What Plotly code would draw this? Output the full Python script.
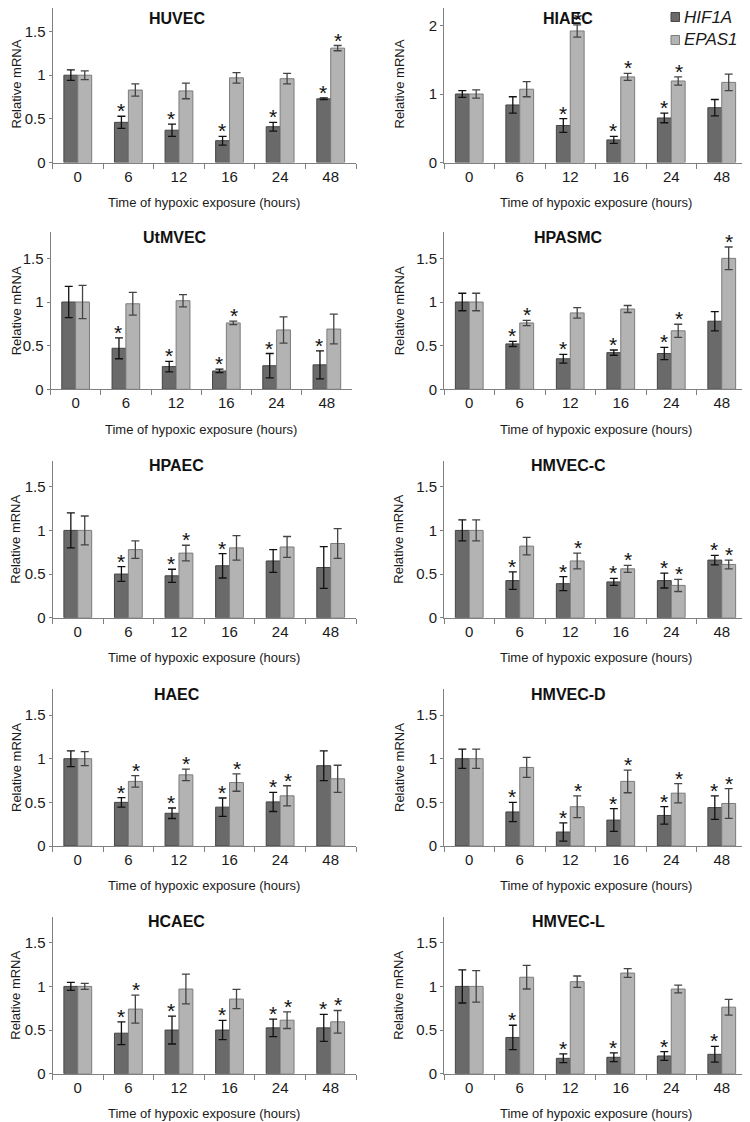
import plotly.graph_objects as go

# Browser window is 750x1122 but the page body has an 8px margin,
# so the figure is 742x1114 and reference pixel positions are shifted by 8.
WIN_W, WIN_H = 750, 1122
OFF = 8
W, H = WIN_W - OFF, WIN_H - OFF


def px(x):
    return (x - OFF) / W


def py(y):
    return 1 - (y - OFF) / H


TIMES = ["0", "6", "12", "16", "24", "48"]
CELLS = ["HUVEC", "HIAEC", "UtMVEC", "HPASMC", "HPAEC", "HMVEC-C", "HAEC", "HMVEC-D", "HCAEC", "HMVEC-L"]
SERIES = ["HIF1A", "EPAS1"]

# ---- data (mean, s.e.), significance flags (1 = asterisk) ----
HUVEC_HIF1A = [1.00, 0.46, 0.37, 0.25, 0.41, 0.73]
HUVEC_HIF1A_ERR = [0.06, 0.07, 0.07, 0.05, 0.05, 0.01]
HUVEC_EPAS1 = [1.00, 0.83, 0.82, 0.97, 0.96, 1.31]
HUVEC_EPAS1_ERR = [0.05, 0.07, 0.09, 0.06, 0.06, 0.03]
HUVEC_HIF1A_SIG = [0, 1, 1, 1, 1, 1]
HUVEC_EPAS1_SIG = [0, 0, 0, 0, 0, 1]

HIAEC_HIF1A = [1.00, 0.84, 0.54, 0.33, 0.65, 0.80]
HIAEC_HIF1A_ERR = [0.05, 0.12, 0.10, 0.05, 0.07, 0.12]
HIAEC_EPAS1 = [1.00, 1.07, 1.92, 1.25, 1.19, 1.17]
HIAEC_EPAS1_ERR = [0.06, 0.11, 0.09, 0.05, 0.06, 0.12]
HIAEC_HIF1A_SIG = [0, 0, 1, 1, 1, 0]
HIAEC_EPAS1_SIG = [0, 0, 1, 1, 1, 0]

UTMVEC_HIF1A = [1.00, 0.47, 0.26, 0.21, 0.27, 0.28]
UTMVEC_HIF1A_ERR = [0.18, 0.12, 0.06, 0.02, 0.14, 0.16]
UTMVEC_EPAS1 = [1.00, 0.98, 1.015, 0.76, 0.68, 0.69]
UTMVEC_EPAS1_ERR = [0.19, 0.13, 0.07, 0.02, 0.15, 0.17]
UTMVEC_HIF1A_SIG = [0, 1, 1, 1, 1, 1]
UTMVEC_EPAS1_SIG = [0, 0, 0, 1, 0, 0]

HPASMC_HIF1A = [1.00, 0.52, 0.35, 0.42, 0.41, 0.78]
HPASMC_HIF1A_ERR = [0.10, 0.03, 0.05, 0.03, 0.07, 0.11]
HPASMC_EPAS1 = [1.00, 0.76, 0.875, 0.92, 0.67, 1.50]
HPASMC_EPAS1_ERR = [0.10, 0.03, 0.06, 0.04, 0.075, 0.13]
HPASMC_HIF1A_SIG = [0, 1, 1, 1, 1, 0]
HPASMC_EPAS1_SIG = [0, 1, 0, 0, 1, 1]

HPAEC_HIF1A = [1.00, 0.50, 0.48, 0.595, 0.65, 0.575]
HPAEC_HIF1A_ERR = [0.20, 0.085, 0.075, 0.14, 0.13, 0.24]
HPAEC_EPAS1 = [1.00, 0.78, 0.74, 0.80, 0.81, 0.85]
HPAEC_EPAS1_ERR = [0.165, 0.10, 0.09, 0.14, 0.12, 0.17]
HPAEC_HIF1A_SIG = [0, 1, 1, 1, 0, 0]
HPAEC_EPAS1_SIG = [0, 0, 1, 0, 0, 0]

HMVECC_HIF1A = [1.00, 0.425, 0.39, 0.41, 0.425, 0.66]
HMVECC_HIF1A_ERR = [0.12, 0.10, 0.08, 0.04, 0.085, 0.055]
HMVECC_EPAS1 = [1.00, 0.82, 0.65, 0.56, 0.37, 0.61]
HMVECC_EPAS1_ERR = [0.12, 0.10, 0.09, 0.04, 0.07, 0.05]
HMVECC_HIF1A_SIG = [0, 1, 1, 1, 1, 1]
HMVECC_EPAS1_SIG = [0, 0, 1, 1, 1, 1]

HAEC_HIF1A = [1.00, 0.50, 0.375, 0.445, 0.505, 0.92]
HAEC_HIF1A_ERR = [0.09, 0.055, 0.06, 0.105, 0.11, 0.17]
HAEC_EPAS1 = [1.00, 0.74, 0.815, 0.727, 0.575, 0.77]
HAEC_EPAS1_ERR = [0.08, 0.065, 0.065, 0.10, 0.115, 0.155]
HAEC_HIF1A_SIG = [0, 1, 1, 1, 1, 0]
HAEC_EPAS1_SIG = [0, 1, 1, 1, 1, 0]

HMVECD_HIF1A = [1.00, 0.39, 0.16, 0.297, 0.35, 0.44]
HMVECD_HIF1A_ERR = [0.11, 0.11, 0.105, 0.13, 0.10, 0.135]
HMVECD_EPAS1 = [1.00, 0.90, 0.45, 0.74, 0.605, 0.487]
HMVECD_EPAS1_ERR = [0.11, 0.115, 0.125, 0.13, 0.11, 0.17]
HMVECD_HIF1A_SIG = [0, 1, 1, 1, 1, 1]
HMVECD_EPAS1_SIG = [0, 0, 1, 1, 1, 1]

HCAEC_HIF1A = [1.00, 0.464, 0.50, 0.50, 0.525, 0.525]
HCAEC_HIF1A_ERR = [0.045, 0.13, 0.16, 0.11, 0.10, 0.155]
HCAEC_EPAS1 = [1.00, 0.74, 0.97, 0.855, 0.613, 0.594]
HCAEC_EPAS1_ERR = [0.035, 0.16, 0.17, 0.11, 0.095, 0.13]
HCAEC_HIF1A_SIG = [0, 1, 1, 1, 1, 1]
HCAEC_EPAS1_SIG = [0, 1, 0, 0, 1, 1]

HMVECL_HIF1A = [1.00, 0.415, 0.176, 0.188, 0.203, 0.222]
HMVECL_HIF1A_ERR = [0.19, 0.14, 0.05, 0.05, 0.05, 0.09]
HMVECL_EPAS1 = [1.00, 1.105, 1.054, 1.153, 0.97, 0.762]
HMVECL_EPAS1_ERR = [0.18, 0.135, 0.065, 0.05, 0.045, 0.09]
HMVECL_HIF1A_SIG = [0, 1, 1, 1, 1, 1]
HMVECL_EPAS1_SIG = [0, 0, 0, 0, 0, 0]

PANELS = [
    (HUVEC_HIF1A, HUVEC_HIF1A_ERR, HUVEC_EPAS1, HUVEC_EPAS1_ERR, HUVEC_HIF1A_SIG, HUVEC_EPAS1_SIG),
    (HIAEC_HIF1A, HIAEC_HIF1A_ERR, HIAEC_EPAS1, HIAEC_EPAS1_ERR, HIAEC_HIF1A_SIG, HIAEC_EPAS1_SIG),
    (UTMVEC_HIF1A, UTMVEC_HIF1A_ERR, UTMVEC_EPAS1, UTMVEC_EPAS1_ERR, UTMVEC_HIF1A_SIG, UTMVEC_EPAS1_SIG),
    (HPASMC_HIF1A, HPASMC_HIF1A_ERR, HPASMC_EPAS1, HPASMC_EPAS1_ERR, HPASMC_HIF1A_SIG, HPASMC_EPAS1_SIG),
    (HPAEC_HIF1A, HPAEC_HIF1A_ERR, HPAEC_EPAS1, HPAEC_EPAS1_ERR, HPAEC_HIF1A_SIG, HPAEC_EPAS1_SIG),
    (HMVECC_HIF1A, HMVECC_HIF1A_ERR, HMVECC_EPAS1, HMVECC_EPAS1_ERR, HMVECC_HIF1A_SIG, HMVECC_EPAS1_SIG),
    (HAEC_HIF1A, HAEC_HIF1A_ERR, HAEC_EPAS1, HAEC_EPAS1_ERR, HAEC_HIF1A_SIG, HAEC_EPAS1_SIG),
    (HMVECD_HIF1A, HMVECD_HIF1A_ERR, HMVECD_EPAS1, HMVECD_EPAS1_ERR, HMVECD_HIF1A_SIG, HMVECD_EPAS1_SIG),
    (HCAEC_HIF1A, HCAEC_HIF1A_ERR, HCAEC_EPAS1, HCAEC_EPAS1_ERR, HCAEC_HIF1A_SIG, HCAEC_EPAS1_SIG),
    (HMVECL_HIF1A, HMVECL_HIF1A_ERR, HMVECL_EPAS1, HMVECL_EPAS1_ERR, HMVECL_HIF1A_SIG, HMVECL_EPAS1_SIG),
]

# ---- style ----
DARK = "#6a6a6a"
DARK_LINE = "#454545"
LIGHT = "#b3b3b3"
LIGHT_LINE = "#7c7c7c"
AXIS = "#808080"
FONT = "Liberation Sans, Arial, sans-serif"
TXT = "#1a1a1a"

# window-pixel geometry: (x0, x1) per column, zero-line y per row
COL_X = [(52.5, 356.0), (444.0, 747.0)]
ROW_Y0 = [162.5, 389.3, 617.7, 846.0, 1073.7]
PX_PER_UNIT = 87.3        # scale of the 0-1.8 panels
PX_PER_UNIT_HIAEC = 68.5  # scale of the 0-2.3 panel
PLOT_H = 157.0

fig = go.Figure()
layout = dict(
    template="none",
    width=W, height=H,
    margin=dict(l=0, r=0, t=0, b=0, pad=0, autoexpand=False),
    paper_bgcolor="white", plot_bgcolor="white",
    barmode="group", bargap=0.45, bargroupgap=0,
    font=dict(family=FONT, color=TXT),
    showlegend=False,
)
annotations = []
shapes = []

for i, cell in enumerate(CELLS):
    hif, hif_e, ep, ep_e, hif_s, ep_s = PANELS[i]
    row, col = divmod(i, 2)
    x0, x1 = COL_X[col]
    if cell == "UtMVEC":
        x0, x1 = 50.5, 352.0
    y0 = ROW_Y0[row]
    ytop = max(y0 - PLOT_H, OFF)
    scale = PX_PER_UNIT_HIAEC if cell == "HIAEC" else PX_PER_UNIT
    ymax = (y0 - ytop) / scale
    n = i + 1
    xa = "x" if n == 1 else f"x{n}"
    ya = "y" if n == 1 else f"y{n}"
    dtick = 1 if cell == "HIAEC" else 0.5

    fig.add_trace(go.Bar(
        x=TIMES, y=hif, name=SERIES[0],
        marker=dict(color=DARK, line=dict(color=DARK_LINE, width=1)),
        error_y=dict(type="data", array=hif_e, color="#111111", thickness=1.3, width=4),
        xaxis=xa, yaxis=ya, offsetgroup="a"))
    fig.add_trace(go.Bar(
        x=TIMES, y=ep, name=SERIES[1],
        marker=dict(color=LIGHT, line=dict(color=LIGHT_LINE, width=1)),
        error_y=dict(type="data", array=ep_e, color="#444444", thickness=1.3, width=4),
        xaxis=xa, yaxis=ya, offsetgroup="b"))

    key = "" if n == 1 else str(n)
    layout["xaxis" + key] = dict(
        domain=[px(x0), px(x1)], anchor=ya, type="category",
        categoryorder="array", categoryarray=TIMES,
        range=[-0.5, len(TIMES) - 0.5], autorange=False, automargin=False,
        showline=True, linecolor=AXIS, linewidth=1,
        ticks="outside", tickson="boundaries", ticklen=5, tickcolor=AXIS, tickwidth=1,
        tickangle=0,
        tickfont=dict(size=15, family=FONT, color=TXT),
        showgrid=False, zeroline=False, fixedrange=True)
    layout["yaxis" + key] = dict(
        domain=[py(y0), min(py(ytop), 1.0)], anchor=xa, range=[0, ymax], autorange=False,
        automargin=False, dtick=dtick, tick0=0,
        showline=True, linecolor=AXIS, linewidth=1,
        ticks="outside", ticklen=3, tickcolor=AXIS, tickwidth=1,
        tickfont=dict(size=15, family=FONT, color=TXT),
        showgrid=False, zeroline=False, fixedrange=True)

    # panel title
    ty = max(y0 - 152, 18)
    annotations.append(dict(
        text=f"<b>{cell}</b>", xref="paper", yref="paper",
        x=px(x0 + 124), y=py(ty), xanchor="center", yanchor="middle",
        showarrow=False, font=dict(size=16, family=FONT, color="#111111")))
    # x axis title
    annotations.append(dict(
        text="Time of hypoxic exposure (hours)", xref="paper", yref="paper",
        x=px((x0 + x1) / 2), y=py(y0 + 40), xanchor="center", yanchor="middle",
        showarrow=False, font=dict(size=13, family=FONT, color=TXT)))
    # y axis title
    annotations.append(dict(
        text="Relative mRNA", xref="paper", yref="paper", textangle=-90,
        x=px(max(x0 - 45, 16)), y=py(y0 - 78), xanchor="center", yanchor="middle",
        showarrow=False, font=dict(size=13, family=FONT, color=TXT)))
    # significance asterisks (x given as category index)
    for vals, errs, sig, shift in ((hif, hif_e, hif_s, -7.5), (ep, ep_e, ep_s, 7.5)):
        for k, (v, e, s) in enumerate(zip(vals, errs, sig)):
            if s:
                annotations.append(dict(
                    text="*", xref=xa, yref=ya, x=k, y=v + e,
                    xanchor="center", yanchor="bottom", xshift=shift, yshift=-8,
                    showarrow=False, font=dict(size=21, family=FONT, color="#111111")))

# legend (top right), drawn as swatches + italic labels
for j, (name, fill, line) in enumerate(((SERIES[0], DARK, DARK_LINE), (SERIES[1], LIGHT, LIGHT_LINE))):
    cy = 17 + 23 * j
    shapes.append(dict(type="rect", xref="paper", yref="paper",
                       x0=px(671), x1=px(679.5), y0=py(cy + 4.5), y1=py(cy - 4.5),
                       fillcolor=fill, line=dict(color=line, width=1)))
    annotations.append(dict(
        text=f"<i>{name}</i>", xref="paper", yref="paper",
        x=px(682), y=py(cy), xanchor="left", yanchor="middle",
        showarrow=False, font=dict(size=17, family=FONT, color=TXT)))

layout["annotations"] = annotations
layout["shapes"] = shapes
fig.update_layout(**layout)
fig.write_html("out.html")
